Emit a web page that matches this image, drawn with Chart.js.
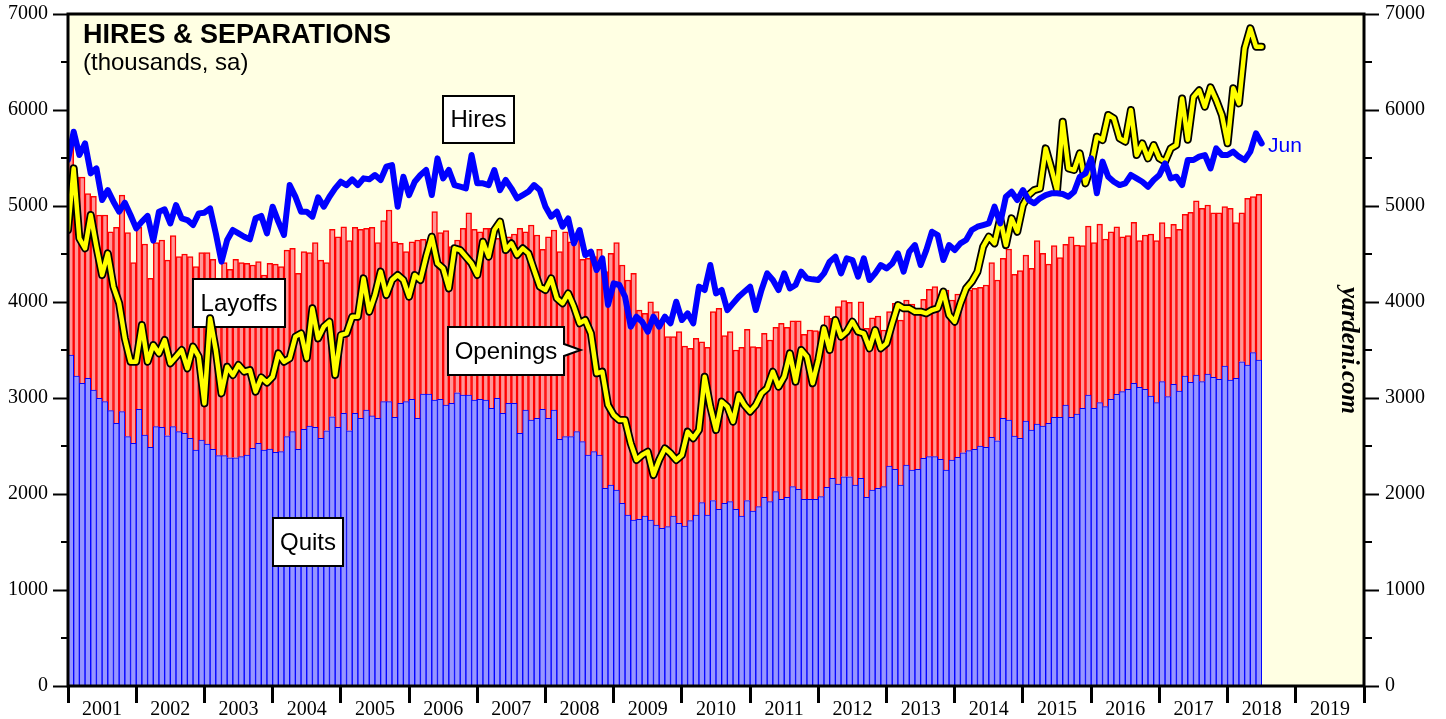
<!DOCTYPE html>
<html>
<head>
<meta charset="utf-8">
<title>Hires &amp; Separations</title>
<script src="https://cdn.jsdelivr.net/npm/chart.js@4.4.1/dist/chart.umd.min.js"></script>
<style>
  html, body { margin: 0; padding: 0; background: #fff; }
  #wrap { width: 1446px; height: 719px; }
</style>
</head>
<body>
<div id="wrap"><canvas id="chart" width="1446" height="719"></canvas></div>
<script>
    'use strict';

    // x axis runs in months from Jan 2001 (0) to end of 2019 (228)
    var yearLabels = [2001, 2002, 2003, 2004, 2005, 2006, 2007, 2008, 2009, 2010,
        2011, 2012, 2013, 2014, 2015, 2016, 2017, 2018, 2019];

    // monthly lines, Dec 2000 .. Jun 2018 (thousands, sa)
    var hires = [
        5479, 5774, 5531, 5652, 5340, 5392, 5062, 5166, 5045, 4941, 5034, 4906, 4767,
        4837, 4896, 4639, 4941, 4965, 4819, 5010, 4871, 4854, 4802, 4923, 4930,
        4975, 4715, 4420, 4646, 4750, 4715, 4680, 4653, 4871, 4896, 4715, 4993,
        4837, 4698, 5218, 5097, 4941, 4941, 4889, 5090, 4993, 5097, 5184, 5253,
        5218, 5278, 5218, 5288, 5278, 5323, 5271, 5409, 5427, 4993, 5305, 5114,
        5253, 5323, 5375, 5114, 5496, 5288, 5375, 5218, 5201, 5184, 5531, 5236,
        5236, 5218, 5375, 5166, 5271, 5184, 5080, 5114, 5149, 5218, 5166, 4993,
        4889, 4941, 4785, 4871, 4611, 4750, 4489, 4524, 4333, 4455, 3969, 4194,
        4177, 4055, 3743, 3847, 3795, 3691, 3847, 3743, 3847, 3778, 4003, 3812,
        3882, 3778, 4160, 4125, 4385, 4090, 4125, 3916, 3986, 4055, 4108, 4160,
        3916, 4125, 4298, 4229, 4125, 4298, 4142, 4177, 4316, 4246, 4236, 4229,
        4298, 4420, 4472, 4298, 4455, 4437, 4264, 4455, 4229, 4298, 4385, 4350,
        4402, 4507, 4316, 4524, 4593, 4385, 4541, 4732, 4698, 4437, 4593, 4541,
        4611, 4646, 4750, 4784, 4802, 4819, 4993, 4819, 5097, 5149, 5062, 5166,
        5062, 5028, 5080, 5114, 5132, 5132, 5125, 5097, 5149, 5305, 5340, 5496,
        5132, 5462, 5305, 5253, 5218, 5236, 5323, 5288, 5253, 5201, 5271, 5323,
        5444, 5288, 5305, 5218, 5479, 5479, 5514, 5531, 5392, 5600, 5531, 5531,
        5566, 5514, 5479, 5566, 5757, 5652
    ];
    var openings = [
        4750, 5392, 4663, 4559, 4906, 4576, 4281, 4507, 4160, 3986, 3621, 3378, 3378,
        3760, 3378, 3552, 3465, 3604, 3361, 3430, 3500, 3309, 3535, 3430, 2944,
        3830, 3500, 3048, 3326, 3239, 3344, 3274, 3291, 3066, 3215, 3160, 3222,
        3465, 3378, 3413, 3639, 3673, 3413, 3934, 3621, 3743, 3795, 3239, 3656,
        3673, 3847, 3847, 4246, 3899, 4073, 4316, 4073, 4229, 4281, 4229, 4055,
        4281, 4229, 4472, 4680, 4402, 4350, 4142, 4559, 4541, 4472, 4402, 4281,
        4628, 4472, 4750, 4837, 4541, 4611, 4489, 4559, 4507, 4333, 4160, 4125,
        4246, 4038, 3986, 4090, 3951, 3778, 3812, 3673, 3257, 3274, 2927, 2823,
        2770, 2770, 2528, 2354, 2406, 2441, 2198, 2354, 2475, 2424, 2354, 2406,
        2649, 2580, 2667, 3222, 2910, 2667, 2962, 2910, 2753, 3031, 2927, 2858,
        2927, 3048, 3101, 3274, 3118, 3222, 3465, 3170, 3500, 3430, 3153, 3396,
        3725, 3500, 3812, 3639, 3691, 3795, 3691, 3673, 3517, 3708, 3517, 3569,
        3778, 3969, 3934, 3934, 3899, 3899, 3882, 3916, 3934, 4108, 3864, 3795,
        3986, 4142, 4212, 4316, 4576, 4680, 4611, 4871, 4593, 4871, 4732, 5010,
        5114, 5166, 5184, 5600, 5392, 5166, 5878, 5392, 5375, 5548, 5236, 5420,
        5722, 5687, 5948, 5913, 5705, 5670, 6000, 5531, 5652, 5496, 5635, 5496,
        5462, 5600, 5635, 6120, 5690, 6135, 6205, 6035, 6236, 6104, 5948, 5653,
        6226, 6069, 6642, 6851, 6660, 6660
    ];

    // monthly bars, Jan 2001 .. Jun 2018 (thousands, sa)
    var quits = [
        3448, 3229, 3153, 3205, 3083, 2996, 2962, 2868, 2736, 2858, 2597, 2528,
        2882, 2614, 2486, 2701, 2694, 2607, 2701, 2649, 2632, 2580, 2458, 2562,
        2521, 2465, 2399, 2399, 2378, 2378, 2389, 2406, 2476, 2528, 2458, 2469,
        2434, 2441, 2597, 2649, 2465, 2673, 2708, 2694, 2580, 2659, 2805, 2694,
        2840, 2659, 2840, 2788, 2875, 2813, 2788, 2962, 2962, 2799, 2944, 2962,
        2986, 2788, 3042, 3042, 2979, 2986, 2927, 2944, 3055, 3031, 3031, 2979,
        2986, 2979, 2892, 2996, 2840, 2944, 2944, 2632, 2875, 2771, 2788, 2882,
        2788, 2875, 2569, 2597, 2597, 2649, 2545, 2406, 2441, 2406, 2059, 2094,
        2042, 1903, 1781, 1729, 1736, 1771, 1729, 1677, 1642, 1660, 1771, 1694,
        1667, 1722, 1781, 1910, 1781, 1931, 1840, 1903, 1920, 1840, 1771, 1931,
        1823, 1868, 1965, 1920, 2024, 1945, 1965, 2076, 2049, 1945, 1945, 1945,
        1972, 2069, 2163, 2104, 2180, 2180, 2094, 2163, 1965, 2042, 2059, 2076,
        2292, 2257, 2094, 2302, 2250, 2257, 2371, 2389, 2389, 2361, 2250, 2354,
        2382, 2430, 2451, 2465, 2500, 2486, 2590, 2555, 2788, 2771, 2604, 2580,
        2760, 2667, 2729, 2708, 2736, 2799, 2799, 2927, 2799, 2833, 2892, 3031,
        2892, 2951, 2910, 2986, 3038, 3066, 3090, 3153, 3111, 3090, 3021, 2951,
        3170, 3014, 3142, 3073, 3229, 3163, 3239, 3170, 3250, 3215, 3194, 3333,
        3187, 3205, 3378, 3344, 3472, 3396
    ];
    var layoffs = [
        2182, 2071, 2147, 1925, 2017, 1910, 1944, 1864, 2041, 2256, 2125, 1882,
        1895, 1990, 1760, 1917, 1952, 1830, 1990, 1823, 1868, 1892, 1910, 1952,
        1993, 1979, 1830, 2011, 1962, 2066, 2021, 1996, 1909, 1892, 1823, 1933,
        1961, 1927, 1944, 1910, 1833, 1851, 1806, 1924, 1857, 1751, 1952, 1986,
        1944, 1980, 1937, 1969, 1892, 1964, 1830, 1885, 1996, 1829, 1667, 1562,
        1642, 1858, 1611, 1569, 1962, 1736, 1816, 1632, 1591, 1736, 1899, 1778,
        1746, 1788, 1875, 1667, 1910, 1736, 1764, 2135, 1857, 2031, 1910, 1666,
        1892, 1875, 1955, 2135, 2031, 2031, 1899, 2049, 2031, 2142, 2257, 2413,
        2576, 2482, 2448, 2569, 2180, 2111, 2274, 2222, 2170, 1979, 1868, 1997,
        1874, 1795, 1840, 1676, 1747, 1968, 2094, 1746, 1771, 1660, 1757, 1784,
        1712, 1660, 1708, 1684, 1712, 1833, 1771, 1729, 1756, 1718, 1763, 1756,
        1719, 1788, 1667, 1847, 1834, 1816, 1621, 1840, 1760, 1794, 1795, 1632,
        1607, 1729, 1718, 1719, 1729, 1642, 1657, 1743, 1771, 1625, 1875, 1667,
        1701, 1643, 1674, 1677, 1653, 1691, 1820, 1674, 1667, 1781, 1684, 1746,
        1729, 1683, 1910, 1799, 1659, 1788, 1663, 1673, 1881, 1760, 1695, 1760,
        1726, 1861, 1746, 1746, 1746, 1614, 1601, 1677, 1528, 1608, 1687, 1688,
        1656, 1659, 1667, 1684, 1684, 1771, 1816, 1805, 1760, 1715, 1736, 1660,
        1788, 1621, 1552, 1736, 1625, 1725
    ];

    var SERIF = '"Liberation Serif", "Times New Roman", serif';
    var SANS = '"Liberation Sans", Arial, Helvetica, sans-serif';

    function monthPoints(values, offset) {
        return values.map(function (v, i) { return { x: i + offset, y: v }; });
    }

    // boxed labels, placed in data units (month, value)
    var callouts = [
        { text: 'Hires', x: 72.2, y: 5900, w: 71, h: 47 },
        { text: 'Layoffs', x: 30.05, y: 3990, w: 92, h: 48 },
        { text: 'Openings', x: 77.0, y: 3490, w: 116, h: 48, tipX: 90.2, tipY: 3500 },
        { text: 'Quits', x: 42.2, y: 1500, w: 70, h: 48 }
    ];

    function drawCallouts(chart) {
        var ctx = chart.ctx, xs = chart.scales.x, ys = chart.scales.y;
        ctx.save();
        ctx.lineWidth = 2;
        ctx.strokeStyle = '#000';
        callouts.forEach(function (c) {
            var cx = xs.getPixelForValue(c.x), cy = ys.getPixelForValue(c.y);
            var l = Math.round(cx - c.w / 2), t = Math.round(cy - c.h / 2);
            var r = l + c.w, b = t + c.h;
            ctx.beginPath();
            ctx.moveTo(l, t);
            ctx.lineTo(r, t);
            if (c.tipX !== undefined) {
                var tx = xs.getPixelForValue(c.tipX), ty = ys.getPixelForValue(c.tipY);
                ctx.lineTo(r, ty - 6);
                ctx.lineTo(tx, ty);
                ctx.lineTo(r, ty + 6);
            }
            ctx.lineTo(r, b);
            ctx.lineTo(l, b);
            ctx.closePath();
            ctx.fillStyle = '#fff';
            ctx.fill();
            ctx.stroke();
            ctx.fillStyle = '#000';
            ctx.font = '24px ' + SANS;
            ctx.textAlign = 'center';
            ctx.textBaseline = 'middle';
            ctx.fillText(c.text, (l + r) / 2, (t + b) / 2 + 1);
        });
        ctx.restore();
    }

    var decorations = {
        id: 'decorations',
        beforeDraw: function (chart) {
            var a = chart.chartArea, ctx = chart.ctx;
            ctx.save();
            ctx.fillStyle = '#ffffe3';
            ctx.fillRect(a.left, a.top, a.right - a.left, a.bottom - a.top);
            ctx.restore();
        },
        afterDatasetDraw: function (chart, args) {
            if (args.index === 3) drawCallouts(chart);
        },
        afterDraw: function (chart) {
            var a = chart.chartArea, ctx = chart.ctx, ys = chart.scales.y;
            ctx.save();
            // minor ticks
            ctx.strokeStyle = '#000';
            ctx.lineWidth = 2;
            for (var v = 500; v < 7000; v += 1000) {
                var py = Math.round(ys.getPixelForValue(v));
                ctx.beginPath();
                ctx.moveTo(a.left - 7, py); ctx.lineTo(a.left, py);
                ctx.moveTo(a.right, py); ctx.lineTo(a.right + 8, py);
                ctx.stroke();
            }
            // frame
            ctx.lineWidth = 3;
            ctx.strokeRect(a.left, a.top, a.right - a.left, a.bottom - a.top);

            // title
            ctx.fillStyle = '#000';
            ctx.textAlign = 'left';
            ctx.textBaseline = 'alphabetic';
            ctx.font = 'bold 27px ' + SANS;
            ctx.fillText('HIRES & SEPARATIONS', 83, 43);
            ctx.font = '24px ' + SANS;
            ctx.fillText('(thousands, sa)', 83, 70);

            // last month tag
            ctx.fillStyle = '#0000ff';
            ctx.font = '21px ' + SANS;
            ctx.fillText('Jun', 1268, 152);

            // source
            ctx.fillStyle = '#000';
            ctx.font = 'italic bold 25px ' + SERIF;
            ctx.translate(1342, 287);
            ctx.rotate(Math.PI / 2);
            ctx.fillText('yardeni.com', 0, 0);
            ctx.restore();
        }
    };

    function yAxis(position, padding, width) {
        return {
            position: position,
            min: 0,
            max: 7000,
            ticks: {
                stepSize: 500,
                autoSkip: false,
                padding: padding,
                color: '#000',
                font: { family: SERIF, size: 20 },
                callback: function (v) { return v % 1000 === 0 ? String(v) : ''; }
            },
            grid: {
                drawOnChartArea: false,
                tickLength: 15,
                tickWidth: 2,
                tickColor: function (c) {
                    return c.tick && c.tick.value % 1000 === 0 ? '#000' : 'rgba(0,0,0,0)';
                }
            },
            border: { display: false },
            afterFit: function (s) {
                s.width = width;
                s.paddingTop = 0;
                s.paddingBottom = 0;
            }
        };
    }

    new Chart(document.getElementById('chart'), {
        data: {
            datasets: [{
                type: 'line',
                label: 'Hires',
                data: monthPoints(hires, 0),
                borderColor: '#0000ff',
                borderWidth: 6,
                borderJoinStyle: 'round',
                borderCapStyle: 'round',
                pointRadius: 0,
                stack: 'hires',
                order: 0
            }, {
                type: 'line',
                label: 'Openings',
                data: monthPoints(openings, 0),
                borderColor: '#ffff00',
                borderWidth: 4.5,
                borderJoinStyle: 'round',
                borderCapStyle: 'round',
                pointRadius: 0,
                stack: 'openings',
                order: 1
            }, {
                type: 'line',
                label: 'Openings outline',
                data: monthPoints(openings, 0),
                borderColor: '#000',
                borderWidth: 8,
                borderJoinStyle: 'round',
                borderCapStyle: 'round',
                pointRadius: 0,
                stack: 'outline',
                order: 2
            }, {
                type: 'bar',
                label: 'Quits',
                data: monthPoints(quits, 0.5),
                backgroundColor: '#9696ff',
                borderColor: '#0000ff',
                borderWidth: 1,
                barPercentage: 1,
                categoryPercentage: 1,
                stack: 'separations',
                order: 3
            }, {
                type: 'bar',
                label: 'Layoffs',
                data: monthPoints(layoffs, 0.5),
                backgroundColor: '#ff9696',
                borderColor: '#ff0000',
                borderWidth: 1.5,
                barPercentage: 1,
                categoryPercentage: 1,
                stack: 'separations',
                order: 4
            }]
        },
        options: {
            responsive: false,
            animation: false,
            events: [],
            layout: { padding: { top: 14, left: 0, right: 0, bottom: 0 } },
            plugins: {
                legend: { display: false },
                tooltip: { enabled: false }
            },
            scales: {
                x: {
                    type: 'linear',
                    min: 0,
                    max: 228,
                    offset: false,
                    afterBuildTicks: function (s) {
                        var t = [];
                        for (var v = 0; v <= 228; v += 6) t.push({ value: v });
                        s.ticks = t;
                    },
                    ticks: {
                        autoSkip: false,
                        maxRotation: 0,
                        padding: -5,
                        color: '#000',
                        font: { family: SERIF, size: 20 },
                        callback: function (v) {
                            return v % 12 === 6 ? String(yearLabels[(v - 6) / 12]) : '';
                        }
                    },
                    grid: {
                        offset: false,
                        drawOnChartArea: false,
                        tickLength: 17,
                        tickWidth: 3,
                        tickColor: function (c) {
                            return c.tick && c.tick.value % 12 === 0 ? '#000' : 'rgba(0,0,0,0)';
                        }
                    },
                    border: { display: false },
                    afterFit: function (s) {
                        s.height = 33;
                        s.paddingLeft = 0;
                        s.paddingRight = 0;
                    }
                },
                y: yAxis('left', 5, 68),
                y2: yAxis('right', 6, 82)
            }
        },
        plugins: [decorations]
    });
</script>
</body>
</html>
